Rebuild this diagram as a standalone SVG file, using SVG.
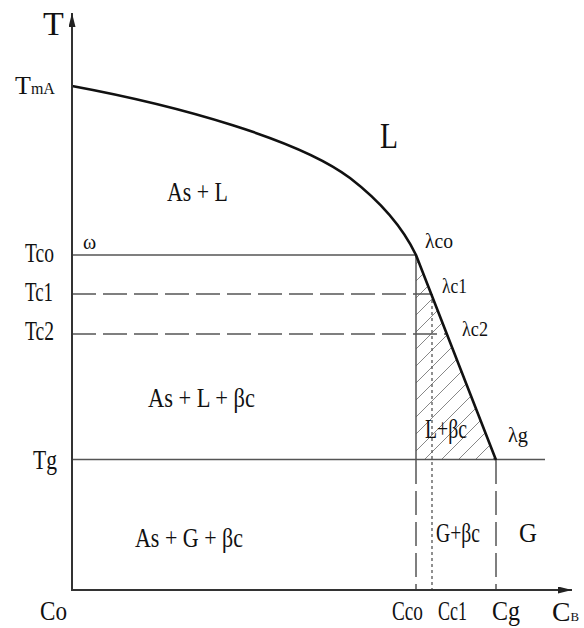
<svg xmlns="http://www.w3.org/2000/svg" width="584" height="628" viewBox="0 0 584 628">
<style>
text{font-family:"Liberation Serif","Times New Roman",serif;fill:#111}
.lab{font-size:27px}
.reg{font-size:27px}
.lam{font-size:21px}
.axis{stroke:#333;stroke-width:2;fill:none}
.solid{stroke:#555;stroke-width:1.5;fill:none}
.dash{stroke:#555;stroke-width:1.5;fill:none;stroke-dasharray:24 7}
.dot{stroke:#555;stroke-width:1.3;fill:none;stroke-dasharray:3 3}
.curve{stroke:#111;stroke-width:2.6;fill:none;stroke-linejoin:round}
</style>
<defs>
<marker id="arr" viewBox="0 0 14 7" refX="14" refY="3.5" markerWidth="14" markerHeight="7" markerUnits="userSpaceOnUse" orient="auto">
<path d="M0,0 L14,3.5 L0,7 Z" fill="#222"/>
</marker>
<pattern id="hatch" width="17" height="17" patternUnits="userSpaceOnUse">
<path d="M0,17 L17,0 M-4,4 L4,-4 M13,21 L21,13" stroke="#888" stroke-width="1"/>
</pattern>
</defs>
<rect width="584" height="628" fill="#fff"/>

<g id="hatch-region">
<polygon points="416,255 496,460 416,460" fill="url(#hatch)"/>
</g>

<g id="connectors">
<line class="solid" x1="72" y1="255" x2="416" y2="255"/>
<line class="solid" x1="416" y1="255" x2="416" y2="460"/>
<line class="solid" x1="72" y1="459.5" x2="545" y2="459.5"/>
<line class="dash" x1="72" y1="294" x2="431" y2="294"/>
<line class="dash" x1="72" y1="334" x2="447" y2="334"/>
<line class="dash" x1="416" y1="460" x2="416" y2="590"/>
<line class="dash" x1="496" y1="460" x2="496" y2="590"/>
<line class="dot" x1="432" y1="294" x2="432" y2="590"/>
<path class="curve" d="M72,86 C180,106 300,140 350,178 C385,205 405,232 416,255 L496,460"/>
<line class="axis" x1="72" y1="591" x2="72" y2="13" marker-end="url(#arr)"/>
<line class="axis" x1="71" y1="590" x2="572" y2="590" marker-end="url(#arr)"/>
</g>

<g id="axis-labels">
<text x="43" y="35" font-size="34">T</text>
<text x="15" y="94"><tspan font-size="26">T</tspan><tspan font-size="16">mA</tspan></text>
<text class="lab" x="25" y="262" textLength="29" lengthAdjust="spacingAndGlyphs">Tco</text>
<text class="lab" x="25" y="301" textLength="28" lengthAdjust="spacingAndGlyphs">Tc1</text>
<text class="lab" x="25" y="340" textLength="29" lengthAdjust="spacingAndGlyphs">Tc2</text>
<text class="lab" x="33" y="469" textLength="24" lengthAdjust="spacingAndGlyphs">Tg</text>
<text class="lab" x="40" y="620" textLength="27" lengthAdjust="spacingAndGlyphs">Co</text>
<text class="lab" x="392" y="620" textLength="31" lengthAdjust="spacingAndGlyphs">Cco</text>
<text class="lab" x="438" y="620" textLength="29" lengthAdjust="spacingAndGlyphs">Cc1</text>
<text class="lab" x="492" y="620" textLength="28" lengthAdjust="spacingAndGlyphs">Cg</text>
<text x="552" y="621" textLength="27" lengthAdjust="spacingAndGlyphs"><tspan font-size="28">C</tspan><tspan font-size="13">B</tspan></text>
</g>

<g id="point-labels">
<text x="83" y="249" font-size="20">ω</text>
<text class="lam" x="425" y="248" textLength="28" lengthAdjust="spacingAndGlyphs">λco</text>
<text class="lam" x="442" y="293" textLength="25" lengthAdjust="spacingAndGlyphs">λc1</text>
<text class="lam" x="462" y="336" textLength="26" lengthAdjust="spacingAndGlyphs">λc2</text>
<text class="lam" x="508" y="442" textLength="20" lengthAdjust="spacingAndGlyphs">λg</text>
</g>

<g id="region-labels">
<text x="380" y="148" font-size="35" textLength="18" lengthAdjust="spacingAndGlyphs">L</text>
<text class="reg" x="167" y="201" textLength="61" lengthAdjust="spacingAndGlyphs">As + L</text>
<text class="reg" x="148" y="407" textLength="107" lengthAdjust="spacingAndGlyphs">As + L + βc</text>
<text class="reg" x="135" y="547" textLength="108" lengthAdjust="spacingAndGlyphs">As + G + βc</text>
<text class="reg" x="425" y="438" textLength="42" lengthAdjust="spacingAndGlyphs">L+βc</text>
<text class="reg" x="436" y="542" textLength="44" lengthAdjust="spacingAndGlyphs">G+βc</text>
<text class="reg" x="519" y="542" textLength="18" lengthAdjust="spacingAndGlyphs">G</text>
</g>
</svg>
